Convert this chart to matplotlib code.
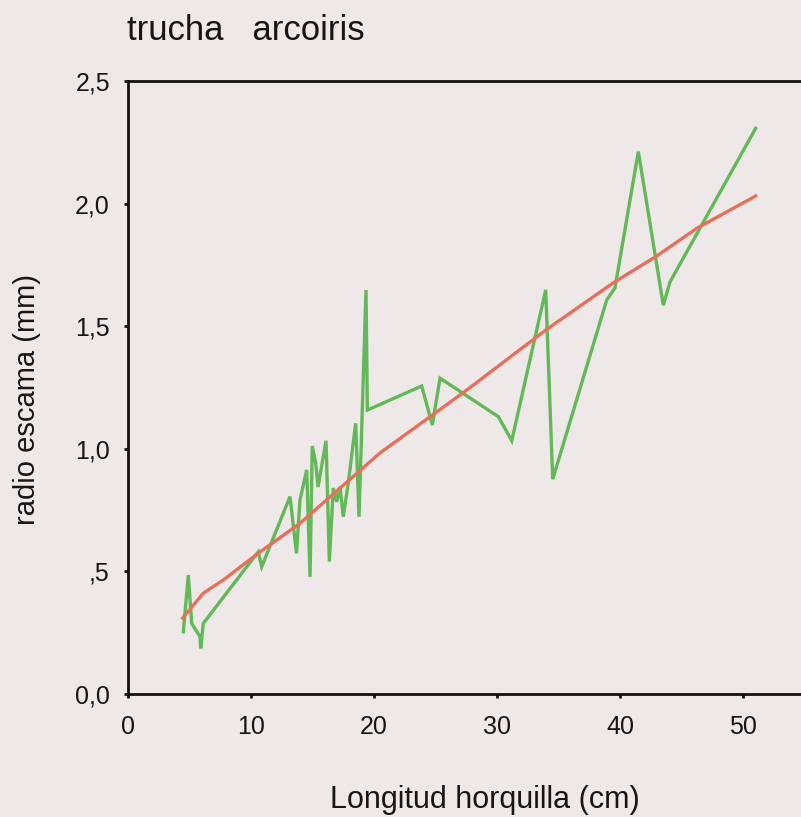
import matplotlib
matplotlib.use("Agg")
import matplotlib.pyplot as plt

# data
longitud = [4.5, 4.9, 5.18, 5.85, 5.91, 6.12, 10.59, 10.87, 13.17, 13.7,
            13.98, 14.53, 14.8, 14.98, 15.26, 15.45, 16.1, 16.37, 16.69, 16.97,
            17.24, 17.5, 17.91, 18.51, 18.78, 19.35, 19.46, 23.88, 24.74, 25.37,
            30.11, 31.2, 33.96, 34.53, 38.92, 39.59, 41.49, 43.52, 44.07, 51.03]
radio = [0.254, 0.485, 0.288, 0.234, 0.186, 0.288, 0.58, 0.519, 0.805, 0.574,
         0.791, 0.914, 0.478, 1.011, 0.942, 0.844, 1.033, 0.54, 0.84, 0.784,
         0.845, 0.723, 0.861, 1.104, 0.723, 1.648, 1.158, 1.256, 1.097, 1.288,
         1.131, 1.033, 1.648, 0.876, 1.607, 1.656, 2.212, 1.586, 1.681, 2.307]

ajuste_x = [4.45, 6.12, 7.75, 10.59, 13.98, 20.49, 27.26, 34.04, 39.46, 42.98, 46.24, 51.03]
ajuste_y = [0.31, 0.411, 0.465, 0.574, 0.696, 0.983, 1.229, 1.487, 1.677, 1.786, 1.899, 2.031]

x_ticks = [0, 10, 20, 30, 40, 50]
y_ticks = [0.0, 0.5, 1.0, 1.5, 2.0, 2.5]
y_ticklabels = ["0,0", ",5", "1,0", "1,5", "2,0", "2,5"]

bg = "#eee8e8"
ink = "#161616"
plt.rcParams["font.family"] = ["Liberation Sans", "DejaVu Sans"]

fig = plt.figure(figsize=(8.01, 8.17), dpi=100, facecolor=bg)
ax = fig.add_axes([128 / 801, 1 - 694 / 817, 673 / 801, 613 / 817])
ax.set_facecolor(bg)

ax.plot(longitud, radio, color="#62b957", lw=2.4, solid_joinstyle="miter")
ax.plot(ajuste_x, ajuste_y, color="#e6705c", lw=2.4)

ax.set_xlim(0, 673 / 12.3)
ax.set_ylim(0, 2.5)
ax.set_xticks(x_ticks)
ax.set_yticks(y_ticks)
ax.set_yticklabels(y_ticklabels)
ax.tick_params(direction="out", length=3, width=2, labelsize=18,
               color=ink, labelcolor=ink)
ax.tick_params(axis="y", pad=10)
ax.tick_params(axis="x", pad=12)

ax.spines["right"].set_visible(False)
for s in ["left", "top", "bottom"]:
    ax.spines[s].set_linewidth(2)
    ax.spines[s].set_color("#111111")

ax.set_xlabel("Longitud horquilla (cm)", fontsize=22, color=ink, va="center")
ax.xaxis.set_label_coords(0.53, -0.173)
ax.set_ylabel("radio escama (mm)", fontsize=21, color=ink, va="center")
ax.yaxis.set_label_coords(-0.15, 0.481)

fig.text(127 / 801, 1 - 40 / 817, "trucha   arcoiris", fontsize=25,
         ha="left", va="baseline", color=ink)

fig.savefig("out.png", dpi=100, facecolor=bg)
